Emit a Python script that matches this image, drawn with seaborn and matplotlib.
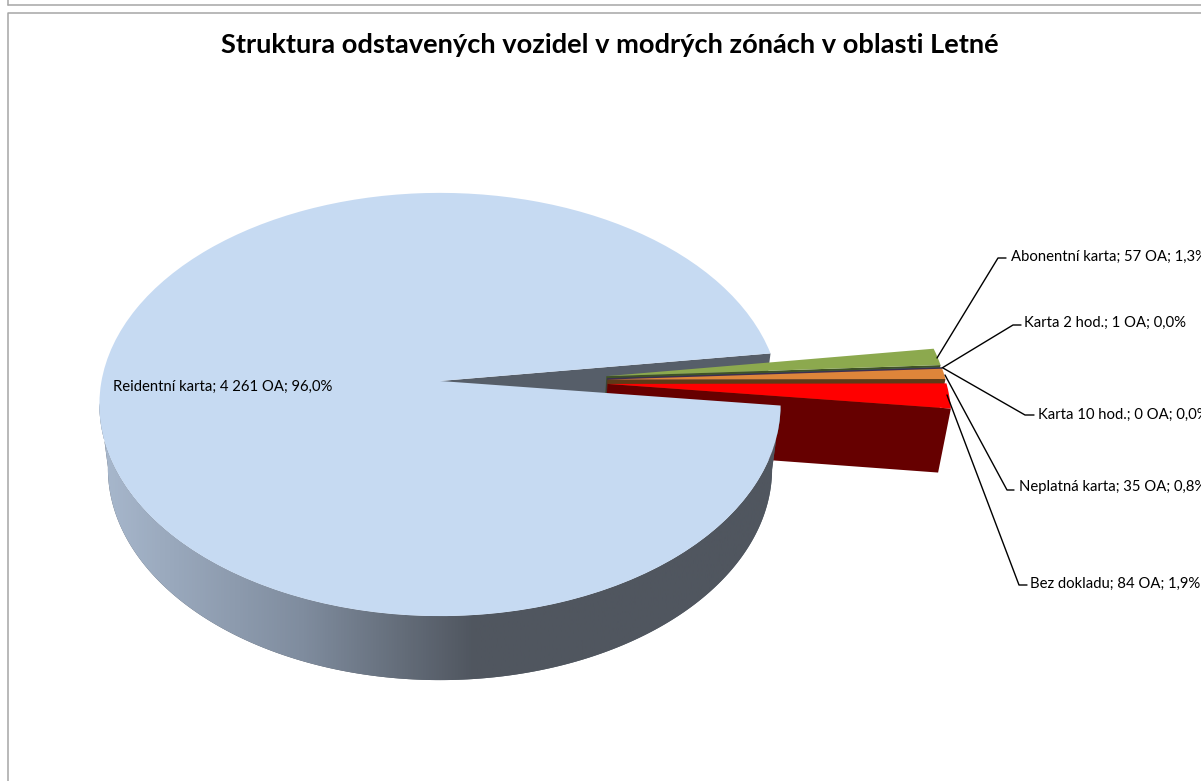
import numpy as np
import matplotlib
matplotlib.use("Agg")
import matplotlib.pyplot as plt
from matplotlib.colors import LinearSegmentedColormap
from matplotlib.transforms import Transform
import seaborn as sns

names = ["Abonentní karta", "Karta 2 hod.", "Karta 10 hod.", "Neplatná karta", "Bez dokladu", "Reidentní karta"]
values = [57, 1, 0, 35, 84, 4261]
top_colors = ["#8CA94E", "#4F6D8F", "#7A5C9E", "#DE853A", "#FF0000", "#C6DAF2"]
wall_colors = ["#3F5226", "#2A3D52", "#3D2E50", "#5E3A17", "#660000", "#565E69"]
explode = [0.495, 0.495, 0.495, 0.495, 0.495, 0]
wall_stops = [(0, "#A8B8CD"), (0.3, "#7F8C9E"), (0.55, "#50565F"), (1, "#50565F")]

# text anchors and leader lines in picture pixels
label_pos = [(1011, 257), (1024, 323), (1038, 415), (1019, 487), (1030, 584), (113, 387)]
leaders = [
    [(1006, 258), (998, 258), (937, 358)],
    [(1021, 325), (1013, 325), (942, 368)],
    [(1034, 415), (1025, 415), (943, 368)],
    [(1014, 490), (1007, 490), (945, 375)],
    [(1027, 585), (1019, 585), (947, 395)],
]

# perspective of the tilted disc
CX, CY, SX, SY, PERSP, DEPTH, TAPER = 440, 381, 338.5, 209, 0.111, 64, 0.025


def project(u, v, z=0):
    w = 1 + PERSP * np.asarray(v)
    x = CX + SX * np.asarray(u) / w
    y = CY - SY * np.asarray(v) / w
    return CX + (x - CX) * (1 - TAPER * z), y + DEPTH * z


class TopFace(Transform):
    input_dims = 2
    output_dims = 2

    def transform_non_affine(self, values):
        values = np.asarray(values)
        x, y = project(values[:, 0], values[:, 1])
        return np.column_stack([x, y])


def polar(wedge, theta):
    t = np.radians(theta)
    return wedge.center[0] + wedge.r * np.cos(t), wedge.center[1] + wedge.r * np.sin(t)


def radial_wall(wedge, theta):
    # side of a slice along one of its straight edges
    ou, ov = polar(wedge, theta)
    us = [wedge.center[0], ou, ou, wedge.center[0]]
    vs = [wedge.center[1], ov, ov, wedge.center[1]]
    zs = np.array([0, 0, 1, 1])
    return project(np.array(us), np.array(vs), zs)


sns.set_theme(style="white")
plt.rcParams["font.family"] = ["Lato", "DejaVu Sans"]

fig = plt.figure(figsize=(12.01, 7.81), dpi=100, facecolor="white")
ax = fig.add_axes([0, 0, 1, 1])

wedges, _ = ax.pie(values, colors=top_colors, explode=explode, startangle=7.7,
                   counterclock=False, wedgeprops={"linewidth": 0})

face = TopFace() + ax.transData
for wedge in wedges:
    # the exploded group moves sideways more than up or down
    wedge.set_center((wedge.center[0], wedge.center[1] * 0.5))
    wedge.set_transform(face)

main = wedges[-1]
main.set_zorder(20)

# gray cut face of the big slice, seen through the gap
gx, gy = radial_wall(main, main.theta1)
ax.fill(gx, gy, color=wall_colors[-1], linewidth=0, zorder=1)

# small slices, painted from the back
z = 2
for wedge, wall in zip(wedges[:-1], wall_colors[:-1]):
    wx, wy = radial_wall(wedge, wedge.theta1)
    ax.fill(wx, wy, color=wall, linewidth=0, zorder=z)
    wedge.set_zorder(z + 1)
    z += 2

# outer wall of the big slice with its gradient, from the leftmost point of the rim
angles = np.linspace(-174, main.theta2, 240)
ou, ov = polar(main, angles)
tx, ty = project(ou, ov, 0)
bx, by = project(ou, ov, 1)
wall_patch = ax.fill(np.r_[tx, bx[::-1]], np.r_[ty, by[::-1]], color=wall_colors[-1], linewidth=0, zorder=15)[0]
cmap = LinearSegmentedColormap.from_list("wall", wall_stops)
im = ax.imshow(np.linspace(0, 1, 512)[None, :], cmap=cmap, extent=(99, 780, 690, 190), aspect="auto", zorder=16)
im.set_clip_path(wall_patch)

# frame lines from the spreadsheet
ax.plot([8, 1201], [4.5, 4.5], color="#A6A6A6", lw=1.1, zorder=0)
ax.plot([8, 8], [0, 4.5], color="#A6A6A6", lw=1.1, zorder=0)
ax.plot([1201, 8, 8], [13, 13, 781], color="#A6A6A6", lw=1.1, zorder=0)

ax.text(610, 45, "Struktura odstavených vozidel v modrých zónách v oblasti Letné",
        ha="center", va="center", fontsize=19.6, fontweight="bold", color="black", zorder=30)

total = sum(values)
for name, val, pos in zip(names, values, label_pos):
    amount = f"{val:,}".replace(",", " ")
    pct = f"{val / total * 100:.1f}".replace(".", ",")
    ax.text(pos[0], pos[1], f"{name}; {amount} OA; {pct}%", ha="left", va="center",
            fontsize=10.7, color="black", zorder=30)

for line in leaders:
    xs, ys = zip(*line)
    ax.plot(xs, ys, color="black", lw=1, zorder=25)

ax.set_aspect("auto")
ax.set_xlim(0, 1201)
ax.set_ylim(781, 0)
ax.set_axis_off()

fig.savefig("out.png", dpi=100, facecolor="white")
